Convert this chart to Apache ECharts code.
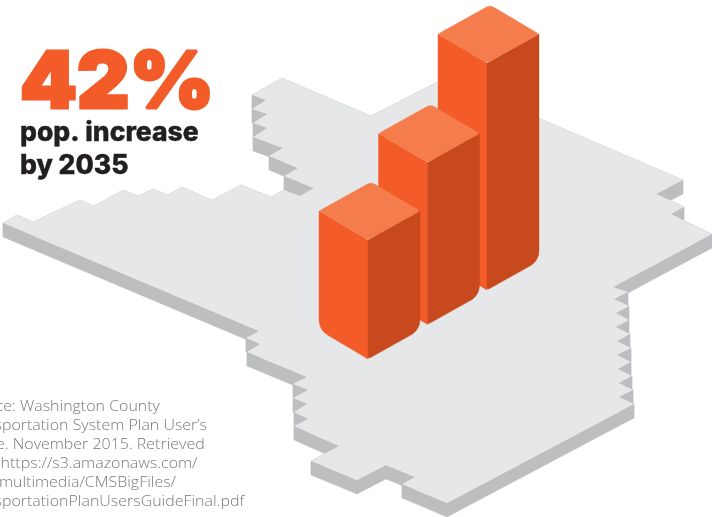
<!DOCTYPE html>
<html>
<head>
<meta charset="utf-8">
<style>html,body{margin:0;padding:0;background:#fff}#chart{width:712px;height:517px}</style>
<script src="https://cdn.jsdelivr.net/npm/echarts@6/dist/echarts.min.js"></script>
</head>
<body>
<div id="chart"></div>
<script>
// County outline, clockwise, in the chart's drawing units
const mapX = [282,371,445,683,656,670,684,671,685,712,613,628,614,629,616,629,616,630,617,631,617,631,618,632,619,633,619,634,447,402,415,386,357,311,339,294,308,294,307,293,308,293,307,247,260,246,259,3,17,33,80,94,123,138,153,168,182,212,241,271,284,300,314,284,298,269,283,253,267,253,267,252,266,252];
const mapY = [78,116,78,180,194,200,207,214,221,234,287,292,299,306,313,320,327,334,341,348,355,362,369,376,383,390,397,404,503,484,477,465,480,461,446,426,419,412,404,398,390,384,377,352,344,338,331,223,215,222,200,206,190,196,189,195,187,200,185,197,190,196,188,176,168,156,148,137,128,123,114,109,100,95];

// Bar heights, front to back
const barValues = [119, 162, 227];

const headline = '42%';
const subLines = ['pop. increase', 'by 2035'];
const sourceLines = [
  'Source: Washington County',
  'Transportation System Plan User\u2019s',
  'Guide. November 2015. Retrieved',
  'from https://s3.amazonaws.com/',
  'wacomultimedia/CMSBigFiles/',
  'TransportationPlanUsersGuideFinal.pdf'
];

const COLORS = {
  surface: '#e6e7e8', wall: '#bcbec0',
  barTop: '#f57c4d', barLeft: '#f35b29', barRight: '#c8491d',
  sub: '#231f20', source: '#76787b'
};

// Plinth depth, and the isometric placement of the bars on the map
const WALL = 14;
const BAR = { frontX: 368, frontY: 359, stepX: 59.5, stepY: -34.5, rightX: 52, leftX: -49, rise: 29 };

// Replaces each corner with a sampled quadratic curve of the given radius
function rounded(points, radii) {
  const out = [];
  const n = points.length;
  points.forEach((p, i) => {
    const r = radii[i];
    if (!r) { out.push(p); return; }
    const a = points[(i + n - 1) % n], b = points[(i + 1) % n];
    const toward = (q) => {
      const d = Math.hypot(q[0] - p[0], q[1] - p[1]);
      const t = Math.min(r / d, 0.5);
      return [p[0] + (q[0] - p[0]) * t, p[1] + (q[1] - p[1]) * t];
    };
    const s = toward(a), e = toward(b);
    for (let k = 0; k <= 8; k++) {
      const t = k / 8, u = 1 - t;
      out.push([u * u * s[0] + 2 * u * t * p[0] + t * t * e[0],
                u * u * s[1] + 2 * u * t * p[1] + t * t * e[1]]);
    }
  });
  return out;
}

function poly(points, fill) {
  return { type: 'polygon', shape: { points }, style: { fill, stroke: fill, lineWidth: 0.4 } };
}

function renderWall(params, api) {
  const i = api.value(0), j = (i + 1) % mapX.length;
  return poly([
    api.coord([mapX[i], mapY[i]]),
    api.coord([mapX[j], mapY[j]]),
    api.coord([mapX[j], mapY[j] + WALL]),
    api.coord([mapX[i], mapY[i] + WALL])
  ], COLORS.wall);
}

function renderSurface(params, api) {
  return {
    type: 'polygon',
    shape: { points: mapX.map((x, i) => api.coord([x, mapY[i]])) },
    style: { fill: COLORS.surface }
  };
}

function renderBar(params, api) {
  const i = api.value(0), value = api.value(1);
  const fx = BAR.frontX + BAR.stepX * i;
  const by = BAR.frontY + BAR.stepY * i;
  const ty = by - value;
  const at = (x, y) => api.coord([x, y]);
  const tf = at(fx, ty), tl = at(fx + BAR.leftX, ty - BAR.rise), tr = at(fx + BAR.rightX, ty - BAR.rise);
  const tb = at(fx + BAR.leftX + BAR.rightX, ty - 2 * BAR.rise);
  const bf = at(fx, by), bl = at(fx + BAR.leftX, by - BAR.rise), br = at(fx + BAR.rightX, by - BAR.rise);
  return {
    type: 'group',
    children: [
      poly(rounded([tl, tf, bf, bl], [0, 0, 0, 11]), COLORS.barLeft),
      poly(rounded([tf, tr, br, bf], [0, 0, 11, 3]), COLORS.barRight),
      poly(rounded([tl, tf, tr, tb], [3, 5, 3, 5]), COLORS.barTop)
    ]
  };
}

const chart = echarts.init(document.getElementById('chart'));
chart.setOption({
  animation: false,
  grid: { left: 0, right: 0, top: 0, bottom: 0 },
  xAxis: { type: 'value', min: 0, max: 712, show: false },
  yAxis: { type: 'value', min: 0, max: 517, inverse: true, show: false },
  series: [
    { type: 'custom', clip: false, silent: true, renderItem: renderWall, encode: { x: 0 }, data: mapX.map((_, i) => [i]) },
    { type: 'custom', clip: false, silent: true, renderItem: renderSurface, data: [[0]] },
    // Drawn back to front so nearer bars overlap the taller ones
    { type: 'custom', clip: false, silent: true, renderItem: renderBar,
      data: barValues.map((v, i) => [i, v]).reverse() }
  ],
  graphic: [
    { type: 'text', x: 20, y: 46, scaleX: 1.04, z: 10, silent: true,
      style: { text: headline, fill: COLORS.barLeft, stroke: COLORS.barLeft, lineWidth: 3, font: '900 78px Inter' } },
    { type: 'text', x: 20, y: 120, z: 10, silent: true,
      style: { text: subLines[0], fill: COLORS.sub, stroke: COLORS.sub, lineWidth: 0.4, font: '800 26.5px Inter' } },
    { type: 'text', x: 20, y: 153, z: 10, silent: true,
      style: { text: subLines[1], fill: COLORS.sub, stroke: COLORS.sub, lineWidth: 0.4, font: '800 26.5px Inter' } }
  ].concat(sourceLines.map((line, i) => ({
    type: 'text', x: -38, y: 399 + i * 19, scaleX: 1.064, z: 10, silent: true,
    style: { text: line, fill: COLORS.source, font: '300 15px "Open Sans"' }
  })))
});
</script>
</body>
</html>
